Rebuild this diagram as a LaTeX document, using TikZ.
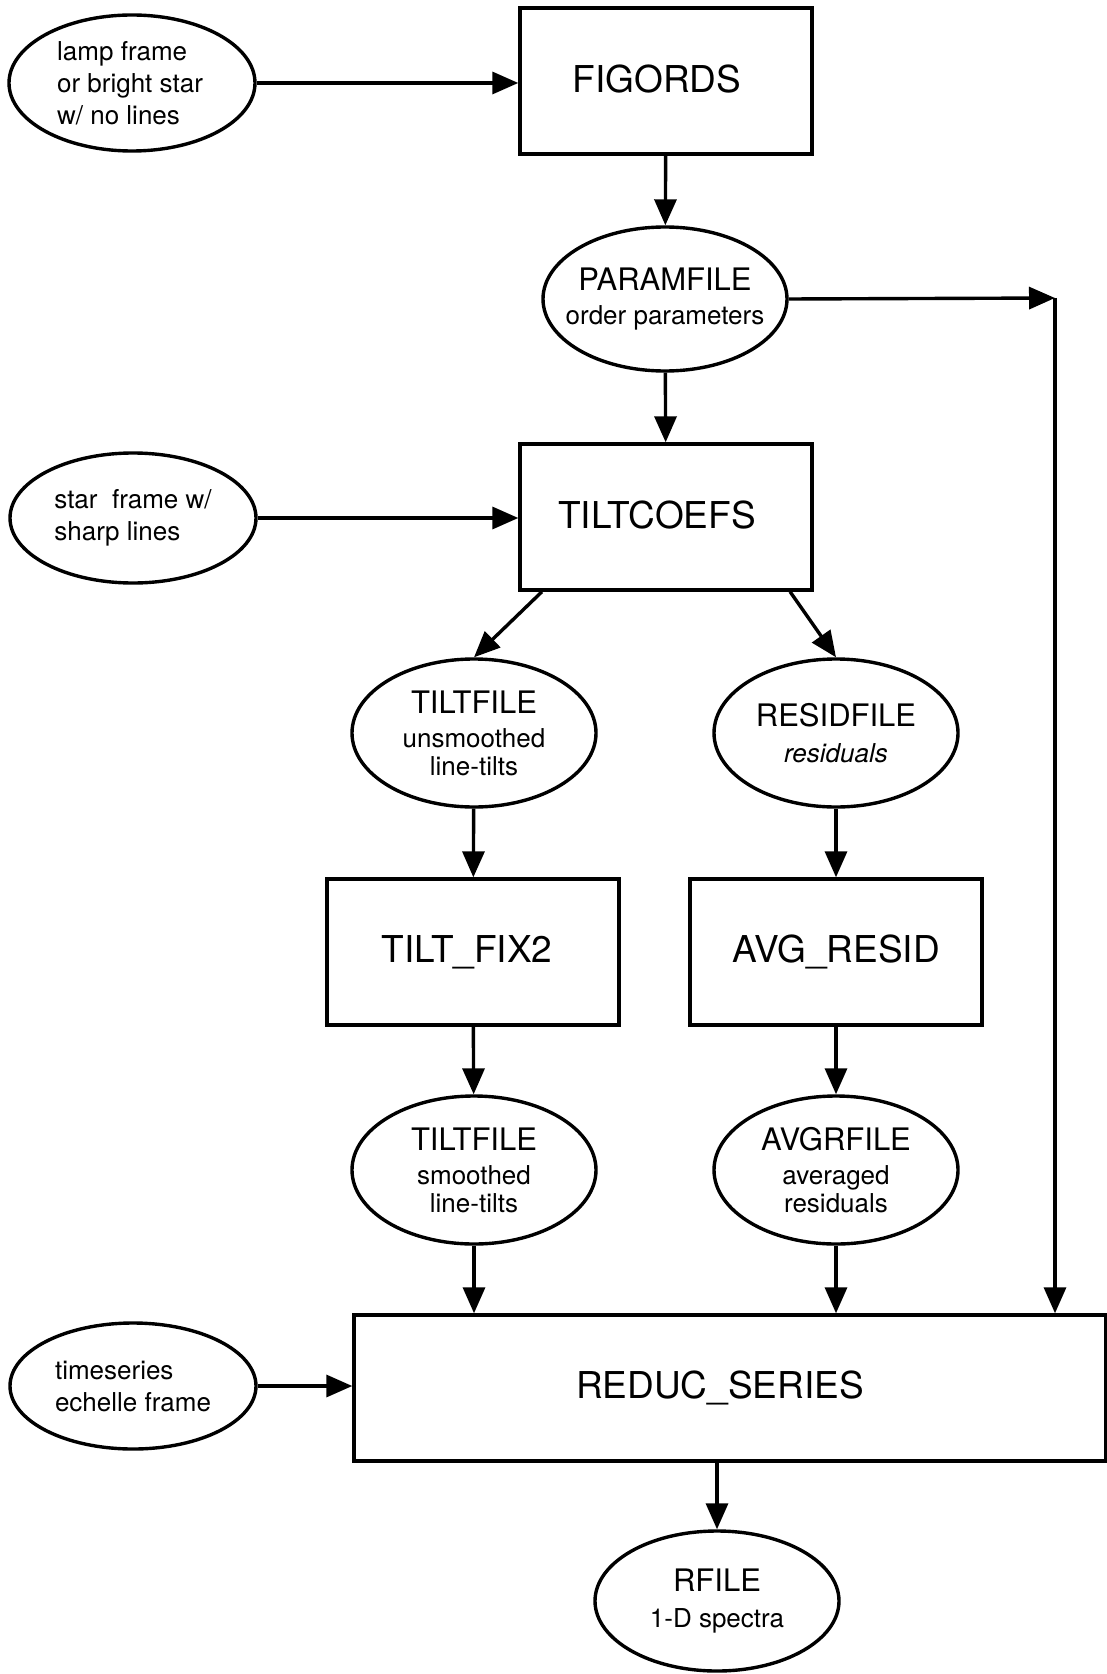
\documentclass[tikz,border=0pt]{standalone}
\usepackage{fontspec}
\setmainfont{TeX Gyre Heros}
\usepackage{tikz}
\usetikzlibrary{arrows.meta, positioning, calc, shapes.geometric}

\newcommand{\ftitle}[1]{{\fontsize{15.5}{18}\selectfont #1}}

\begin{document}
\begin{tikzpicture}[x=0.5pt, y=-0.5pt, line width=1.7pt,
    prog/.style={draw, rectangle, minimum width=146pt, minimum height=73pt,
        font=\fontsize{18.5}{22}\selectfont},
    file/.style={draw, ellipse, minimum width=122pt, minimum height=72pt, inner sep=0pt},
    filetext/.style={align=center, font=\fontsize{13}{14}\selectfont, inner sep=0pt},
    input/.style={draw, ellipse, minimum width=123pt, minimum height=65pt, inner sep=0pt},
    inputtext/.style={align=left, font=\fontsize{13}{16}\selectfont, inner sep=0pt},
    flow/.style={-{Triangle[length=13pt, width=11pt]}}]
    \useasboundingbox (0,0) rectangle (1107,1674);

    % Programs
    \node[prog, text depth=2pt] (figords) at (666,81) {\hspace{-9pt}FIGORDS};
    \node[prog, text depth=2pt] (tiltcoefs) at (666,517) {\hspace{-9pt}TILTCOEFS};
    \node[prog] (tiltfix) at (473,952) {\hspace{-6pt}TILT\_FIX2};
    \node[prog] (avgresid) at (836,952) {AVG\_RESID};
    \node[prog, minimum width=376pt] (reduc) at (730,1388) {\hspace{-10pt}REDUC\_SERIES};

    % Input frames
    \node[input, minimum height=68pt, label={[inputtext, xshift=-1pt]center:{lamp frame\\or bright star\\w/ no lines}}] (lamp) at (132,83) {};
    \node[input, label={[inputtext]center:{star\ \ frame w/\\sharp lines}}] (star) at (133,518) {};
    \node[input, minimum height=63pt, label={[inputtext]center:{timeseries\\echelle frame}}] (timeseries) at (133,1386) {};

    % Files
    \node[file, label={[filetext]center:{\ftitle{PARAMFILE}\\[3pt]order parameters}}] (paramfile) at (665,299) {};
    \node[file, minimum height=74pt, label={[filetext]center:{\ftitle{TILTFILE}\\[3pt]unsmoothed\\line-tilts}}] (tiltfile) at (474,733) {};
    \node[file, minimum height=74pt, label={[filetext]center:{\ftitle{RESIDFILE}\\[4pt]\textit{residuals}}}] (residfile) at (836,733) {};
    \node[file, minimum height=74pt, label={[filetext]center:{\ftitle{TILTFILE}\\[3pt]smoothed\\line-tilts}}] (smoothfile) at (474,1170) {};
    \node[file, minimum height=74pt, label={[filetext]center:{\ftitle{AVGRFILE}\\[3pt]averaged\\residuals}}] (avgrfile) at (836,1170) {};
    \node[file, minimum height=70pt, label={[filetext]center:{\ftitle{RFILE}\\[4pt]1-D spectra}}] (rfile) at (717,1601) {};

    % Flow of data
    \coordinate (corner) at (1055,298);
    \draw[flow] (lamp.east) -- (lamp.east -| figords.west);
    \draw[flow] (figords) -- (paramfile);
    \draw[flow] (paramfile) -- (tiltcoefs);
    \draw[flow] (paramfile.east) -- (corner);
    \draw[flow] (corner) -- (corner |- reduc.north);
    \draw[flow] (star.east) -- (star.east -| tiltcoefs.west);
    \draw[flow] ($(tiltcoefs.south west)!0.08!(tiltcoefs.south east)$) -- (tiltfile.north);
    \draw[flow] ($(tiltcoefs.south west)!0.92!(tiltcoefs.south east)$) -- (residfile.north);
    \draw[flow] (tiltfile) -- (tiltfix);
    \draw[flow] (residfile) -- (avgresid);
    \draw[flow] (tiltfix) -- (smoothfile);
    \draw[flow] (avgresid) -- (avgrfile);
    \draw[flow] (smoothfile.south) -- (smoothfile.south |- reduc.north);
    \draw[flow] (avgrfile.south) -- (avgrfile.south |- reduc.north);
    \draw[flow] (timeseries.east) -- (timeseries.east -| reduc.west);
    \draw[flow] (reduc.south -| rfile) -- (rfile);
\end{tikzpicture}
\end{document}
